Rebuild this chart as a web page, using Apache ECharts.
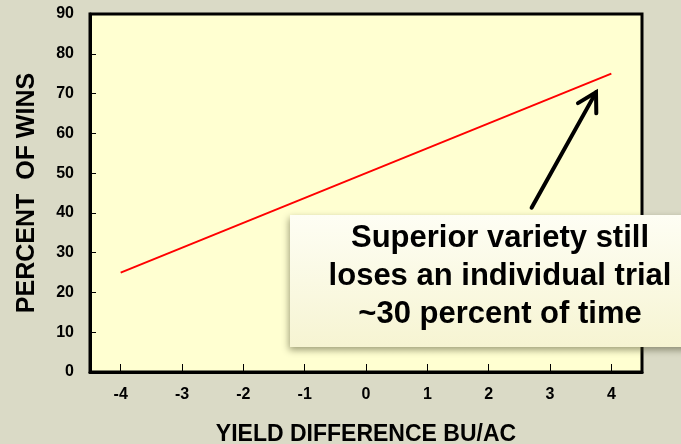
<!DOCTYPE html>
<html>
<head>
<meta charset="utf-8">
<script src="https://cdn.jsdelivr.net/npm/echarts@6/dist/echarts.min.js"></script>
<style>
html,body{margin:0;padding:0;background:#dadac6;}
#chart{width:681px;height:444px;}
</style>
</head>
<body>
<div id="chart"></div>
<script>
// Data
const xTicks = [-4, -3, -2, -1, 0, 1, 2, 3, 4];
const lineX = [-4, 4];
const lineY = [25, 75];
const arrowFrom = [2.7, 41.3];
const arrowTo = [3.75, 70.3];
const noteLines = ['Superior variety still', 'loses an individual trial', '~30 percent of time'];
const xName = 'YIELD DIFFERENCE BU/AC';
const yName = 'PERCENT  OF WINS';

const FONT = '"Liberation Sans", Arial, sans-serif';
const chart = echarts.init(document.getElementById('chart'), null, {renderer: 'canvas'});

const option = {
  backgroundColor: '#dadac6',
  animation: false,
  grid: {
    left: 90, right: 39, top: 14, bottom: 72,
    outerBoundsMode: 'none', containLabel: false,
    show: true, backgroundColor: '#ffffd1', borderColor: '#000', borderWidth: 3
  },
  xAxis: {
    type: 'value', min: -4.5, max: 4.5,
    name: xName, nameLocation: 'middle', nameGap: 51,
    nameTextStyle: {fontFamily: FONT, fontWeight: 'bold', fontSize: 23, color: '#000'},
    axisLine: {show: true, onZero: false, lineStyle: {color: '#000', width: 3}},
    axisTick: {show: true, inside: true, length: 8, customValues: xTicks, lineStyle: {color: '#000', width: 1}},
    axisLabel: {customValues: xTicks, margin: 15, fontFamily: FONT, fontWeight: 'bold', fontSize: 16, color: '#000'},
    splitLine: {show: false}
  },
  yAxis: {
    type: 'value', min: 0, max: 90, interval: 10,
    name: yName, nameLocation: 'middle', nameGap: 50, nameRotate: 90,
    nameTextStyle: {fontFamily: FONT, fontWeight: 'bold', fontSize: 25, color: '#000'},
    axisLine: {show: true, onZero: false, lineStyle: {color: '#000', width: 3}},
    axisTick: {show: true, inside: true, length: 6, lineStyle: {color: '#000', width: 1}},
    axisLabel: {margin: 16, fontFamily: FONT, fontWeight: 'bold', fontSize: 16, color: '#000'},
    splitLine: {show: false}
  },
  series: [{
    type: 'line',
    data: lineX.map((x, i) => [x, lineY[i]]),
    symbol: 'none',
    lineStyle: {color: '#ff0000', width: 2},
    z: 3
  }]
};
chart.setOption(option);

const p0 = chart.convertToPixel({gridIndex: 0}, arrowFrom);
const p1 = chart.convertToPixel({gridIndex: 0}, arrowTo);
const dx = p0[0] - p1[0], dy = p0[1] - p1[1];
const len = Math.hypot(dx, dy);
const ux = dx / len, uy = dy / len;
const armLen = 21, ang = Math.PI / 6;
function rot(x, y, a) { return [x * Math.cos(a) - y * Math.sin(a), x * Math.sin(a) + y * Math.cos(a)]; }
const a1 = rot(ux, uy, ang), a2 = rot(ux, uy, -ang);

chart.setOption({
  graphic: [
    {
      type: 'polyline', z: 100,
      shape: {points: [p0, p1]},
      style: {stroke: '#000', lineWidth: 4, lineCap: 'round', fill: null}
    },
    {
      type: 'polyline', z: 100,
      shape: {points: [[p1[0] + a1[0] * armLen, p1[1] + a1[1] * armLen], p1, [p1[0] + a2[0] * armLen, p1[1] + a2[1] * armLen]]},
      style: {stroke: '#000', lineWidth: 4, lineCap: 'round', lineJoin: 'miter', fill: null}
    },
    {
      type: 'rect', z: 100,
      shape: {x: 290, y: 215, width: 425, height: 132},
      style: {
        fill: new echarts.graphic.LinearGradient(0, 0, 0, 1, [
          {offset: 0, color: '#fefef4'},
          {offset: 1, color: '#f6f4d2'}
        ]),
        shadowBlur: 7, shadowColor: 'rgba(60,60,30,0.5)', shadowOffsetX: -1, shadowOffsetY: 3
      }
    },
    {
      type: 'text', z: 101,
      x: 500, y: 276,
      style: {
        text: noteLines.join('\n'),
        align: 'center', verticalAlign: 'middle',
        font: 'bold 31px ' + FONT, lineHeight: 38, fill: '#000'
      }
    }
  ]
});
</script>
</body>
</html>
